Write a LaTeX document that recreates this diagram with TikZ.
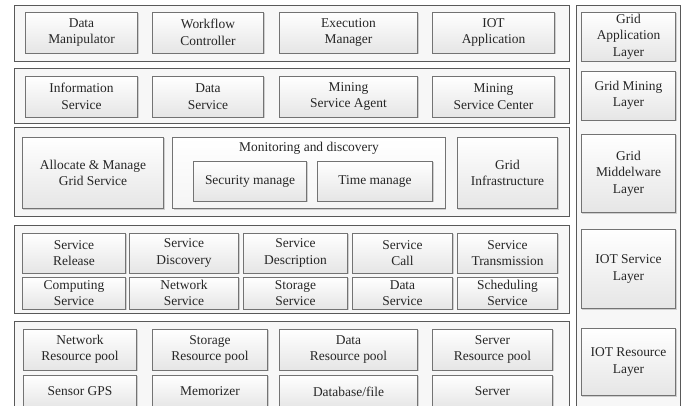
\documentclass[tikz,border=0pt]{standalone}
\usepackage{fontspec}
\setmainfont{Liberation Serif}
\usetikzlibrary{shadows}

\begin{document}
\begin{tikzpicture}[x=1bp, y=-1bp, every node/.style={inner sep=0pt, align=center, text=black!85, font=\fontsize{13.5}{16.5}\selectfont},
	layer/.style={rectangle, draw=black!65, fill=black!3, line width=0.8bp},
	box/.style={rectangle, draw=black!55, top color=white, bottom color=black!10, line width=0.8bp, drop shadow={shadow xshift=1bp, shadow yshift=-1bp, fill=black!35}}]
	\clip (0,0) rectangle (683,405);
	\fill [white] (0,0) rectangle (683,405);
	%Layers
	\node [layer, minimum width=557, minimum height=56] (appl) at (291.5,33) {};
	\node [layer, minimum width=557, minimum height=55] (minl) at (291.5,95.5) {};
	\node [layer, minimum width=557, minimum height=90] (midl) at (291.5,172) {};
	\node [layer, minimum width=557, minimum height=89] (serl) at (291.5,269.5) {};
	\node [layer, minimum width=557, minimum height=99] (resl) at (291.5,370.5) {};
	\node [layer, minimum width=105, minimum height=415] (names) at (628.5,212.5) {};
	%Application
	\node [box, minimum width=113, minimum height=41] (dm) at (81.5,32.5) {Data\\Manipulator};
	\node [box, minimum width=112, minimum height=41] (wc) at (208,32.5) {Workflow\\Controller};
	\node [box, minimum width=139, minimum height=41] (em) at (348.5,32.5) {Execution\\Manager};
	\node [box, minimum width=123, minimum height=41] (ia) at (493.5,32.5) {IOT\\Application};
	%Mining
	\node [box, minimum width=113, minimum height=41] (is) at (81.5,96.5) {Information\\Service};
	\node [box, minimum width=112, minimum height=41] (ds) at (208,96.5) {Data\\Service};
	\node [box, minimum width=139, minimum height=41] (msa) at (348.5,96.5) {Mining\\Service Agent};
	\node [box, minimum width=123, minimum height=41] (msc) at (493.5,96.5) {Mining\\Service Center};
	%Middleware
	\node [box, minimum width=142, minimum height=72] (amg) at (93,173) {Allocate \& Manage\\Grid Service};
	\node [box, top color=white, bottom color=black!4, minimum width=274, minimum height=72] (md) at (309,173) {};
	\node (mdtitle) at (309,148) {Monitoring and discovery};
	\node [box, minimum width=114, minimum height=40] (sm) at (250,181) {Security manage};
	\node [box, minimum width=116, minimum height=40] (tm) at (375,181) {Time manage};
	\node [box, minimum width=101, minimum height=72] (gi) at (507.5,173) {Grid\\Infrastructure};
	%Service
	\node [box, minimum width=104, minimum height=40] (sr) at (74,253) {Service\\Release};
	\node [box, minimum width=110, minimum height=40] (sd) at (184,253) {Service\\Discovery};
	\node [box, minimum width=105, minimum height=40] (sde) at (295.5,253) {Service\\Description};
	\node [box, minimum width=101, minimum height=40] (sc) at (402.5,253) {Service\\Call};
	\node [box, minimum width=101, minimum height=40] (st) at (507.5,253) {Service\\Transmission};
	\node [box, minimum width=104, minimum height=32] (cs) at (74,293) {Computing\\Service};
	\node [box, minimum width=110, minimum height=32] (ns) at (184,293) {Network\\Service};
	\node [box, minimum width=105, minimum height=32] (sts) at (295.5,293) {Storage\\Service};
	\node [box, minimum width=101, minimum height=32] (das) at (402.5,293) {Data\\Service};
	\node [box, minimum width=101, minimum height=32] (ss) at (507.5,293) {Scheduling\\Service};
	%Resource
	\node [box, minimum width=114, minimum height=41] (nrp) at (80,349.5) {Network\\Resource pool};
	\node [box, minimum width=116, minimum height=41] (srp) at (210,349.5) {Storage\\Resource pool};
	\node [box, minimum width=139, minimum height=41] (drp) at (348.5,349.5) {Data\\Resource pool};
	\node [box, minimum width=121, minimum height=41] (svrp) at (492.5,349.5) {Server\\Resource pool};
	\node [box, minimum width=114, minimum height=33] (gps) at (80,391.5) {Sensor GPS};
	\node [box, minimum width=116, minimum height=33] (mem) at (210,391.5) {Memorizer};
	\node [box, minimum width=139, minimum height=33] (dbf) at (348.5,391.5) {Database/file};
	\node [box, minimum width=121, minimum height=33] (svr) at (492.5,391.5) {Server};
	%Layer names
	\node [box, minimum width=95, minimum height=49] (gal) at (628.5,36.5) {Grid\\Application\\Layer};
	\node [box, minimum width=95, minimum height=49] (gml) at (628.5,95.5) {Grid Mining\\Layer};
	\node [box, minimum width=95, minimum height=79] (gmwl) at (628.5,173.5) {Grid\\Middelware\\Layer};
	\node [box, minimum width=95, minimum height=80] (isl) at (628.5,269) {IOT Service\\Layer};
	\node [box, minimum width=95, minimum height=68] (irl) at (628.5,362) {IOT Resource\\Layer};
\end{tikzpicture}
\end{document}
